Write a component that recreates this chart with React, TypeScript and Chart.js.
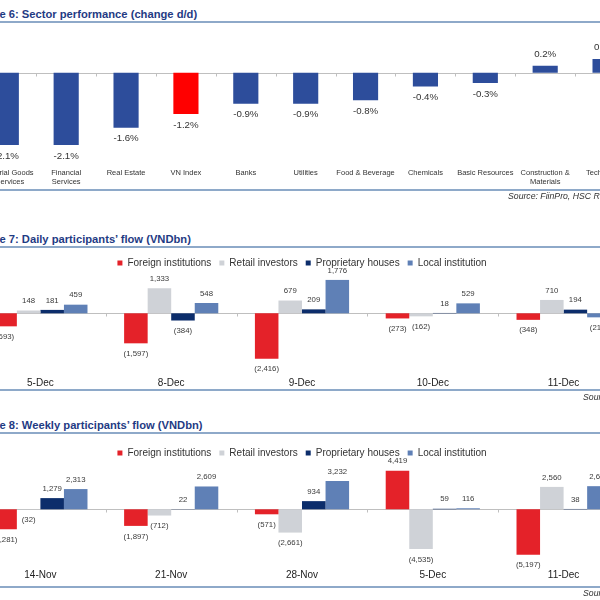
import React, { useEffect, useRef } from "react";
import { Chart, registerables } from "chart.js";

Chart.register(...registerables);

// ---------- Figure 6: Sector performance ----------
const sectorLabels: (string | string[])[] = [
  ["Industrial Goods", "& Services"],
  ["Financial", "Services"],
  "Real Estate",
  "VN Index",
  "Banks",
  "Utilities",
  "Food & Beverage",
  "Chemicals",
  "Basic Resources",
  ["Construction &", "Materials"],
  "Technology",
];
const sectorChange = [-2.1, -2.1, -1.6, -1.2, -0.9, -0.9, -0.8, -0.4, -0.3, 0.2, 0.4];
const highlightSector = "VN Index";

// ---------- Figures 7 & 8: participants' flow ----------
const participantNames = [
  "Foreign institutions",
  "Retail investors",
  "Proprietary houses",
  "Local institution",
];

const dailyDates = ["5-Dec", "8-Dec", "9-Dec", "10-Dec", "11-Dec"];
const dailyForeign = [-693, -1597, -2416, -273, -348];
const dailyRetail = [148, 1333, 679, -162, 710];
const dailyProprietary = [181, -384, 209, 18, 194];
const dailyLocal = [459, 548, 1776, 529, -215];

const weeklyDates = ["14-Nov", "21-Nov", "28-Nov", "5-Dec", "11-Dec"];
const weeklyForeign = [-2281, -1897, -571, 4419, -5197];
const weeklyRetail = [-32, -712, -2661, -4535, 2560];
const weeklyProprietary = [1279, 22, 934, 59, 38];
const weeklyLocal = [2313, 2609, 3232, 116, 2643];

// ---------- styles ----------
const FONT = "Arial, 'Liberation Sans', sans-serif";
const TITLE_COLOR = "#1F3B84";
const RULE_COLOR = "#8EA9C9";
const SECTOR_BLUE = "#2D4D9B";
const SECTOR_RED = "#FF0000";
const SERIES_COLORS = ["#E42229", "#CFD2D7", "#0C2D6B", "#5F80B6"];

function zeroLinePlugin(color: string) {
  return {
    id: "zeroLine",
    beforeDatasetsDraw(chart: any) {
      const { ctx, chartArea, scales } = chart;
      const x = scales.x;
      const y = scales.y;
      const y0 = Math.round(y.getPixelForValue(0)) + 0.5;
      ctx.save();
      ctx.strokeStyle = color;
      ctx.lineWidth = 1;
      ctx.beginPath();
      ctx.moveTo(chartArea.left, y0);
      ctx.lineTo(chartArea.right, y0);
      const n = x.ticks.length;
      for (let i = 1; i < n; i++) {
        const bx = Math.round((x.getPixelForTick(i - 1) + x.getPixelForTick(i)) / 2) + 0.5;
        ctx.moveTo(bx, y0);
        ctx.lineTo(bx, y0 + 3);
      }
      ctx.stroke();
      ctx.restore();
    },
  };
}

function valueLabelPlugin(
  fontSize: number,
  color: string,
  format: (v: number) => string,
  above: number,
  below: number
) {
  return {
    id: "valueLabels",
    afterDatasetsDraw(chart: any) {
      const { ctx } = chart;
      ctx.save();
      ctx.font = `${fontSize}px ${FONT}`;
      ctx.fillStyle = color;
      ctx.textAlign = "center";
      ctx.textBaseline = "middle";
      chart.data.datasets.forEach((ds: any, di: number) => {
        const meta = chart.getDatasetMeta(di);
        meta.data.forEach((bar: any, i: number) => {
          const v = ds.data[i] as number;
          const yy = v >= 0 ? bar.y - above : bar.y + below;
          ctx.fillText(format(v), bar.x, yy);
        });
      });
      ctx.restore();
    },
  };
}

const fmtPct = (v: number) => `${v.toFixed(1)}%`;
const fmtFlow = (v: number) =>
  v < 0 ? `(${Math.abs(v).toLocaleString("en-US")})` : v.toLocaleString("en-US");

function sectorConfig(): any {
  return {
    type: "bar",
    data: {
      labels: sectorLabels,
      datasets: [
        {
          data: sectorChange,
          backgroundColor: sectorLabels.map((l) =>
            l === highlightSector ? SECTOR_RED : SECTOR_BLUE
          ),
          borderWidth: 0,
          categoryPercentage: 0.42,
          barPercentage: 1,
        },
      ],
    },
    options: {
      responsive: false,
      animation: false,
      layout: { padding: 0, autoPadding: false },
      plugins: { legend: { display: false }, tooltip: { enabled: false } },
      scales: {
        x: {
          grid: { display: false, drawTicks: false },
          border: { display: false },
          ticks: {
            font: { family: FONT, size: 7.5 },
            color: "#333",
            padding: 4,
            maxRotation: 0,
            autoSkip: false,
          },
          afterFit: (s: any) => {
            s.height = 26;
          },
        },
        y: { display: false, min: -2.654, max: 1.241 },
      },
    },
    plugins: [zeroLinePlugin("#BFBFBF"), valueLabelPlugin(9.7, "#333", fmtPct, 11.5, 11)],
  };
}

function flowConfig(
  labels: string[],
  series: number[][],
  yMin: number,
  yMax: number,
  tickPad: number
): any {
  return {
    type: "bar",
    data: {
      labels,
      datasets: series.map((d, k) => ({
        label: participantNames[k],
        data: d,
        backgroundColor: SERIES_COLORS[k],
        borderWidth: 0,
        categoryPercentage: 0.72,
        barPercentage: 1,
      })),
    },
    options: {
      responsive: false,
      animation: false,
      layout: { padding: 0, autoPadding: false },
      plugins: {
        tooltip: { enabled: false },
        legend: {
          display: true,
          position: "top",
          align: "center",
          labels: {
            boxWidth: 5,
            boxHeight: 5,
            padding: 8,
            color: "#333",
            font: { family: FONT, size: 10 },
          },
        },
      },
      scales: {
        x: {
          grid: { display: false, drawTicks: false },
          border: { display: false },
          ticks: {
            font: { family: FONT, size: 10 },
            color: "#222",
            padding: tickPad,
            maxRotation: 0,
            autoSkip: false,
          },
          afterFit: (s: any) => {
            s.height = 20;
          },
        },
        y: { display: false, min: yMin, max: yMax },
      },
    },
    plugins: [zeroLinePlugin("#BFBFBF"), valueLabelPlugin(7.8, "#3a3a3a", fmtFlow, 9.5, 10.5)],
  };
}

function ChartCanvas(props: {
  make: () => any;
  left: number;
  top: number;
  width: number;
  height: number;
}) {
  const ref = useRef<HTMLCanvasElement>(null);
  useEffect(() => {
    const chart = new Chart(ref.current as HTMLCanvasElement, props.make());
    return () => chart.destroy();
  }, []);
  return (
    <canvas
      ref={ref}
      width={props.width}
      height={props.height}
      style={{
        position: "absolute",
        left: props.left,
        top: props.top,
        width: props.width,
        height: props.height,
      }}
    />
  );
}

function Title(props: { text: string; centerY: number }) {
  return (
    <div
      style={{
        position: "absolute",
        left: -28.5,
        top: props.centerY - 7,
        height: 14,
        lineHeight: "14px",
        whiteSpace: "nowrap",
        fontSize: 11.2,
        fontWeight: "bold",
        color: TITLE_COLOR,
      }}
    >
      {props.text}
    </div>
  );
}

function Rule(props: { y: number }) {
  return (
    <div
      style={{
        position: "absolute",
        left: 0,
        top: props.y - 1,
        width: 600,
        height: 2,
        background: RULE_COLOR,
      }}
    />
  );
}

function Source(props: { text: string; left: number; centerY: number }) {
  return (
    <div
      style={{
        position: "absolute",
        left: props.left,
        top: props.centerY - 6,
        height: 12,
        lineHeight: "12px",
        whiteSpace: "nowrap",
        fontSize: 8.7,
        fontStyle: "italic",
        color: "#333",
      }}
    >
      {props.text}
    </div>
  );
}

export default function App() {
  return (
    <div
      style={{
        position: "fixed",
        left: 0,
        top: 0,
        width: 600,
        height: 600,
        overflow: "hidden",
        background: "#fff",
        fontFamily: FONT,
      }}
    >
      <Title text="Figure 6: Sector performance (change d/d)" centerY={14} />
      <Rule y={22} />
      <ChartCanvas make={sectorConfig} left={-25} top={30} width={660} height={160} />
      <Rule y={190} />
      <Source text="Source: FiinPro, HSC Research" left={508} centerY={196} />

      <Title text="Figure 7: Daily participants’ flow (VNDbn)" centerY={238.5} />
      <Rule y={246.7} />
      <ChartCanvas
        make={() =>
          flowConfig(
            dailyDates,
            [dailyForeign, dailyRetail, dailyProprietary, dailyLocal],
            -3016,
            1878,
            7
          )
        }
        left={-25}
        top={250}
        width={654}
        height={140}
      />
      <Rule y={390.3} />
      <Source text="Source: HSC Research" left={583} centerY={396.5} />

      <Title text="Figure 8: Weekly participants’ flow (VNDbn)" centerY={424.5} />
      <Rule y={432.5} />
      <ChartCanvas
        make={() =>
          flowConfig(
            weeklyDates,
            [weeklyForeign, weeklyRetail, weeklyProprietary, weeklyLocal],
            -6594,
            4720,
            2
          )
        }
        left={-25}
        top={440}
        width={654}
        height={147}
      />
      <Rule y={587} />
      <Source text="Source: HSC Research" left={583} centerY={593} />
    </div>
  );
}
